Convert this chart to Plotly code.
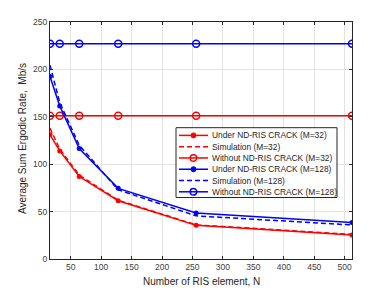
import plotly.graph_objects as go

N = [16, 32, 64, 128, 256, 512]
under_32 = [131.0, 114.0, 87.0, 61.5, 35.5, 25.3]
sim_32 = [138.0, 116.0, 88.5, 62.0, 36.0, 26.0]
without_32 = [151.0] * 6
under_128 = [192.5, 161.5, 116.5, 74.5, 48.5, 38.5]
sim_128 = [204.5, 165.0, 120.0, 73.0, 45.5, 35.9]
without_128 = [227.0] * 6

names = ["Under ND-RIS CRACK (M=32)", "Simulation (M=32)", "Without ND-RIS CRACK (M=32)",
         "Under ND-RIS CRACK (M=128)", "Simulation (M=128)", "Without ND-RIS CRACK (M=128)"]
x_ticks = [50, 100, 150, 200, 250, 300, 350, 400, 450, 500]
y_ticks = [0, 50, 100, 150, 200, 250]
x_title = "Number of RIS element, N"
y_title = "Average Sum Ergodic Rate,  Mb/s"

RED = "#ff0000"
BLUE = "#0000ff"
DASH = "5px,3px"
W, H = 388, 291
L, R, T, B = 50, 36, 22, 32
PW, PH = W - L - R, H - T - B

# style per series: (color, dash, marker)
styles = [(RED, "solid", "filled"), (RED, DASH, None), (RED, "solid", "open"),
          (BLUE, "solid", "filled"), (BLUE, DASH, None), (BLUE, "solid", "open")]
series = [under_32, sim_32, without_32, under_128, sim_128, without_128]

fig = go.Figure()
for name, ys, (col, dash, mk) in zip(names, series, styles):
    if mk == "filled":
        fig.add_trace(go.Scatter(x=N, y=ys, mode="lines+markers", name=name,
                                 line=dict(color=col, width=1.5, dash=dash),
                                 marker=dict(symbol="circle", size=5, color=col)))
    elif mk == "open":
        fig.add_trace(go.Scatter(x=N, y=ys, mode="lines+markers", name=name,
                                 line=dict(color=col, width=1.5, dash=dash),
                                 marker=dict(symbol="circle-open", size=7, color=col, line=dict(width=1.5))))
    else:
        fig.add_trace(go.Scatter(x=N, y=ys, mode="lines", name=name,
                                 line=dict(color=col, width=1.5, dash=dash)))


def px_x(p):
    return (p - L) / PW


def px_y(p):
    return (H - B - p) / PH


shapes = []
annotations = []
# legend box
shapes.append(dict(type="rect", xref="paper", yref="paper",
                   x0=px_x(176), x1=px_x(337), y0=px_y(197.5), y1=px_y(127.7),
                   fillcolor="white", line=dict(color="#262626", width=1), layer="above"))
row0, step = 135.4, 11.28
for i, (name, (col, dash, mk)) in enumerate(zip(names, styles)):
    yc = px_y(row0 + i * step)
    shapes.append(dict(type="line", xref="paper", yref="paper",
                       x0=px_x(179), x1=px_x(208), y0=yc, y1=yc,
                       line=dict(color=col, width=1.5, dash=dash), layer="above"))
    if mk == "filled":
        shapes.append(dict(type="circle", xref="paper", yref="paper", xsizemode="pixel", ysizemode="pixel",
                           xanchor=px_x(193.5), yanchor=yc, x0=-2.5, x1=2.5, y0=-2.5, y1=2.5,
                           fillcolor=col, line=dict(color=col, width=1), layer="above"))
    elif mk == "open":
        shapes.append(dict(type="circle", xref="paper", yref="paper", xsizemode="pixel", ysizemode="pixel",
                           xanchor=px_x(193.5), yanchor=yc, x0=-3.3, x1=3.3, y0=-3.3, y1=3.3,
                           fillcolor="rgba(0,0,0,0)", line=dict(color=col, width=1.5), layer="above"))
    annotations.append(dict(text=name, xref="paper", yref="paper", x=px_x(209.5), y=yc,
                            xanchor="left", yanchor="middle", showarrow=False,
                            font=dict(size=8.4, color="#262626")))

annotations.append(dict(text=x_title, xref="paper", yref="paper", x=px_x(201), y=px_y(281.5),
                        xanchor="center", yanchor="middle", showarrow=False,
                        font=dict(size=10, color="#262626")))
annotations.append(dict(text=y_title, xref="paper", yref="paper", x=px_x(22), y=px_y(139),
                        xanchor="center", yanchor="middle", showarrow=False, textangle=-90,
                        font=dict(size=10, color="#262626")))

axis_common = dict(showgrid=True, gridcolor="#e3e3e3", gridwidth=1, zeroline=False,
                   showline=True, linecolor="#262626", linewidth=1, mirror="ticks",
                   ticks="inside", ticklen=3, tickcolor="#262626",
                   tickfont=dict(size=8.5, color="#404040"), automargin=False)

fig.update_layout(
    width=W, height=H,
    margin=dict(l=L, r=R, t=T, b=B),
    paper_bgcolor="white", plot_bgcolor="white",
    font=dict(family="Liberation Sans, Arial, sans-serif", color="#262626"),
    xaxis=dict(range=[16, 512], tickvals=x_ticks, **axis_common),
    yaxis=dict(range=[0, 250], tickvals=y_ticks, **axis_common),
    showlegend=False,
    hovermode=False,
    shapes=shapes,
    annotations=annotations,
)

fig.write_html("out.html", config={"displayModeBar": False, "staticPlot": True},
               post_script="document.body.style.margin='0';document.body.style.overflow='hidden';")
